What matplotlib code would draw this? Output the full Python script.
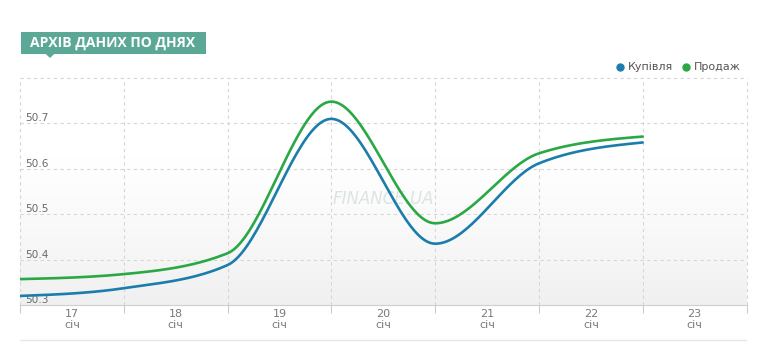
import numpy as np
import matplotlib
matplotlib.use("Agg")
import matplotlib.pyplot as plt
from matplotlib.lines import Line2D
from matplotlib.patches import Rectangle, Polygon

# ---- data ----
days = ['17', '18', '19', '20', '21', '22', '23']
month = 'січ'
buy = [50.32, 50.337, 50.388, 50.71, 50.435, 50.612, 50.658]   # Купівля
sell = [50.357, 50.368, 50.414, 50.748, 50.48, 50.634, 50.671]  # Продаж
y_ticks = [50.3, 50.4, 50.5, 50.6, 50.7, 50.8]
y_labels = ['50.3', '50.4', '50.5', '50.6', '50.7', '']
title = 'АРХІВ ДАНИХ ПО ДНЯХ'
legend_names = ['Купівля', 'Продаж']

BLUE = '#1b7dab'
GREEN = '#2aa845'


def monotone(xs, ys, n=40):
    """Monotone cubic interpolation (d3 curveMonotoneX style)."""
    xs = np.asarray(xs, float)
    ys = np.asarray(ys, float)
    m = len(xs)
    h = np.diff(xs)
    s = np.diff(ys) / h
    t = np.zeros(m)
    sg = lambda v: -1.0 if v < 0 else 1.0
    for i in range(1, m - 1):
        p = (s[i - 1] * h[i] + s[i] * h[i - 1]) / (h[i - 1] + h[i])
        t[i] = (sg(s[i - 1]) + sg(s[i])) * min(abs(s[i - 1]), abs(s[i]), 0.5 * abs(p))
    t[0] = (3 * s[0] - t[1]) / 2
    t[-1] = (3 * s[-1] - t[-2]) / 2
    u = np.linspace(0, 1, n)[:, None]
    out = []
    for i in range(m - 1):
        dx = h[i] / 3
        p0 = np.array([xs[i], ys[i]])
        p1 = np.array([xs[i] + dx, ys[i] + dx * t[i]])
        p2 = np.array([xs[i + 1] - dx, ys[i + 1] - dx * t[i + 1]])
        p3 = np.array([xs[i + 1], ys[i + 1]])
        seg = ((1 - u) ** 3) * p0 + 3 * ((1 - u) ** 2) * u * p1 + 3 * (1 - u) * u ** 2 * p2 + u ** 3 * p3
        out.append(seg if i == 0 else seg[1:])
    out = np.vstack(out)
    return out[:, 0], out[:, 1]


W, H = 769, 361
fig = plt.figure(figsize=(W / 100, H / 100), dpi=100)
fig.patch.set_facecolor('white')

left, right = 20 / W, 746.5 / W
top, bottom = 1 - 78 / H, 1 - 305 / H
ax = fig.add_axes([left, bottom, right - left, top - bottom])

x = np.arange(len(days))

# background gradient (white at top, light grey at bottom)
grad = np.linspace(0, 1, 256)[:, None]
g = 1.0 - 0.058 * np.clip((grad - 0.35) / 0.65, 0, 1) ** 1.2
img = np.dstack([g, g, g])
ax.imshow(img, extent=[0, 1, 0, 1], transform=ax.transAxes, aspect='auto',
          zorder=0, origin='upper')
ax.set_xlim(0, len(days))
ax.set_ylim(y_ticks[0], y_ticks[-1])
ax.set_facecolor('white')

# lines
bx, by = monotone(x, buy)
sx, sy = monotone(x, sell)
ax.plot(bx, by, color=BLUE, lw=1.9, zorder=4, solid_capstyle='round')
ax.plot(sx, sy, color=GREEN, lw=1.9, zorder=4, solid_capstyle='round')

# grid & ticks
ax.set_xticks(np.arange(0, len(days) + 1))
ax.set_xticks(x + 0.5, minor=True)
ax.set_xticklabels([])
ax.set_xticklabels([f'{d}\n{month}' for d in days], minor=True)
ax.set_yticks(y_ticks)
ax.set_yticklabels(y_labels)
ax.grid(True, which='major', axis='both', color='#d6d6d6', lw=0.8,
        linestyle=(0, (3, 3)), zorder=1)
for gl in ax.xaxis.get_gridlines() + ax.yaxis.get_gridlines():
    gl.set_clip_on(False)

ax.tick_params(axis='x', which='major', length=6, color='#cccccc', width=0.8)
ax.tick_params(axis='x', which='minor', length=0, pad=3, labelsize=8,
               labelcolor='#7a7a7a')
for lab in ax.get_xticklabels(minor=True):
    lab.set_linespacing(1.15)
ax.tick_params(axis='y', length=0, pad=-3.6, labelsize=7.6, labelcolor='#6a6a6a')
for lab in ax.get_yticklabels():
    lab.set_horizontalalignment('left')
    lab.set_verticalalignment('bottom')

for s in ['left', 'right', 'top']:
    ax.spines[s].set_visible(False)
ax.spines['bottom'].set_color('#d0d0d0')
ax.spines['bottom'].set_linewidth(0.8)

# watermark
ax.text(0.5, 0.465, 'FINANCE.UA', transform=ax.transAxes, ha='center',
        va='center', fontsize=12, style='italic', color='#dce4e2',
        zorder=2, family='DejaVu Sans')

# title badge
TEAL = '#5ba897'
fig.add_artist(Rectangle((20.5 / W, 1 - 53.5 / H), 185 / W, 21.5 / H,
                         transform=fig.transFigure, facecolor=TEAL,
                         edgecolor='none'))
fig.add_artist(Polygon([(45 / W, 1 - 53.3 / H), (55 / W, 1 - 53.3 / H),
                        (50 / W, 1 - 58 / H)], closed=True,
                       transform=fig.transFigure, facecolor=TEAL,
                       edgecolor='none'))
fig.text(113 / W, 1 - 43 / H, title, ha='center', va='center', color='white',
         fontsize=10, fontweight='bold', family='Open Sans')

# legend
for cx, tx, name, col in [(620, 628, legend_names[0], BLUE),
                          (686, 694, legend_names[1], GREEN)]:
    fig.add_artist(Line2D([cx / W], [1 - 67 / H], marker='o', markersize=5,
                          color=col, linestyle='none',
                          transform=fig.transFigure))
    fig.text(tx / W, 1 - 67 / H, name, ha='left', va='center', fontsize=8,
             color='#555555', family='DejaVu Sans')

# bottom separator
fig.add_artist(Line2D([20 / W, 746 / W], [1 - 340 / H, 1 - 340 / H],
                      color='#e8e8e8', lw=1, transform=fig.transFigure))

fig.savefig('out.png', dpi=100, facecolor='white')
